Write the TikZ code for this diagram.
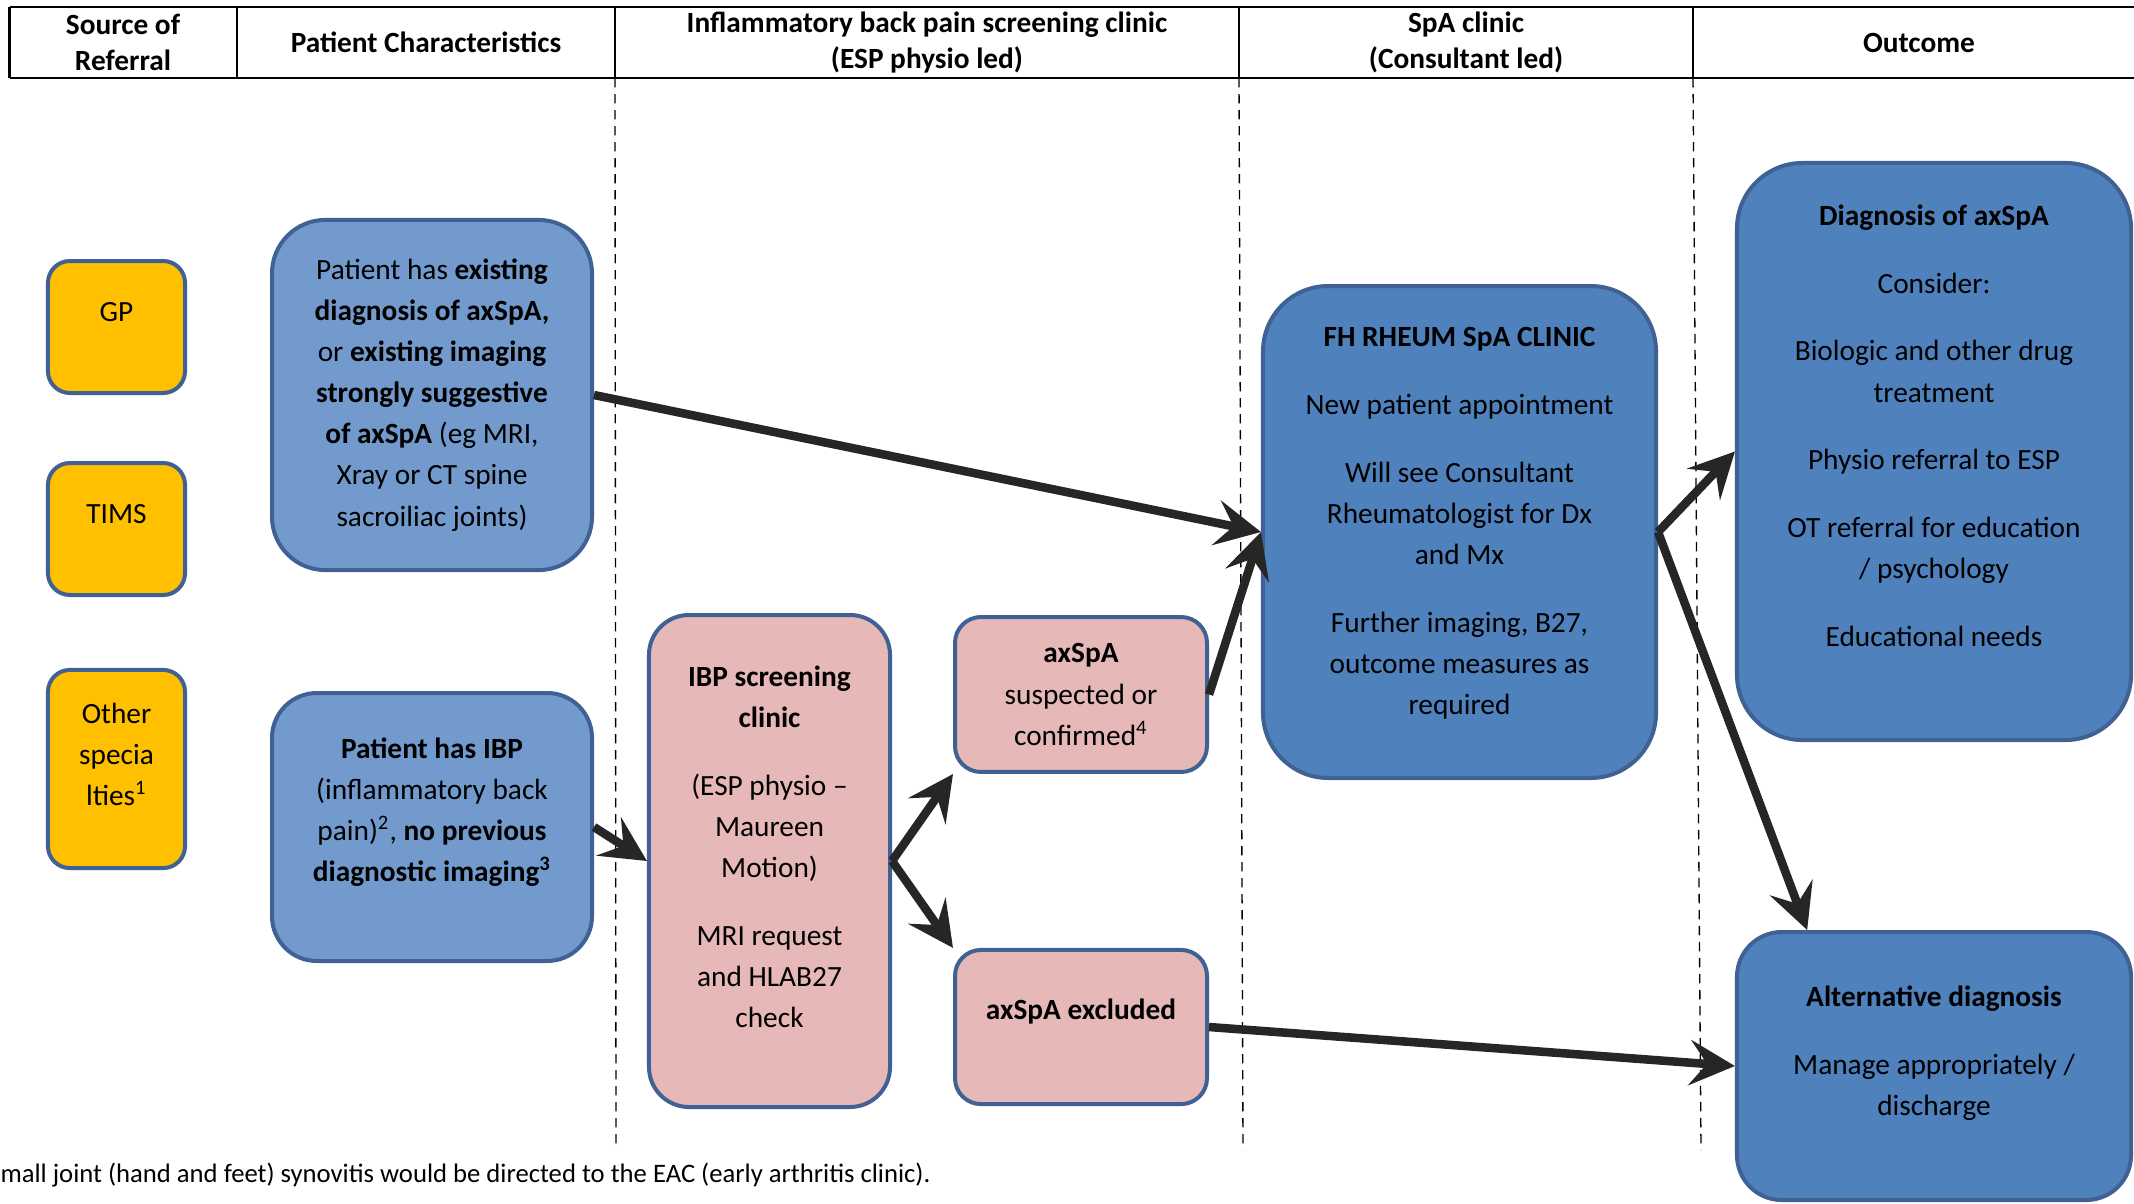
\documentclass[tikz,border=0pt]{standalone}
\usepackage{fontspec}
\setmainfont{Carlito}
\usetikzlibrary{arrows.meta}

\definecolor{srcfill}{HTML}{FFC000}
\definecolor{patfill}{HTML}{729ACD}
\definecolor{pinkfill}{HTML}{E6B9B8}
\definecolor{clinicfill}{HTML}{4F81BD}
\definecolor{boxline}{HTML}{3F6193}
\definecolor{arrowgray}{HTML}{262626}

% empty space under the last line, lifts the text in its box
\newcommand{\padbelow}[1]{\rule[-#1]{0pt}{0pt}}

\tikzset{
    basebox/.style={draw=boxline, line width=1.5pt, align=center, font={\fontsize{11}{15.4}\selectfont}},
    srcbox/.style={basebox, fill=srcfill, minimum width=51.4pt, rounded corners=8.2pt},
    patbox/.style={basebox, fill=patfill, minimum width=120pt},
    pinkbox/.style={basebox, fill=pinkfill},
    clinicbox/.style={basebox, fill=clinicfill},
    hdr/.style={align=center, font={\bfseries\fontsize{11}{13.4}\selectfont}},
    flowarrow/.style={line width=3.2pt, draw=arrowgray, -{Stealth[length=17pt,width=17pt,inset=6.5pt]}},
    lanesep/.style={line width=0.5pt, dash pattern=on 3.5pt off 2.5pt}
}

\begin{document}
\begin{tikzpicture}[x=0.375pt, y=-0.375pt]
    \useasboundingbox (0,0) rectangle (2134,1203);

    % Header row
    \draw[line width=1pt] (9.5,7) -- (2134,7);
    \draw[line width=1pt] (9.5,78) -- (2134,78);
    \foreach \xh in {9.5, 237, 615, 1239, 1693}
        \draw[line width=1pt] (\xh,7) -- (\xh,78);
    \node[hdr] (hsource) at (123, 42.5) {Source of\\Referral};
    \node[hdr] (hpatient) at (426, 42.5) {Patient Characteristics};
    \node[hdr] (hibp) at (927, 42.5) {Inflammatory back pain screening clinic\\(ESP physio led)};
    \node[hdr] (hspa) at (1466, 42.5) {SpA clinic\\(Consultant led)};
    \node[hdr] (houtcome) at (1919, 42.5) {Outcome};

    % Lane separators
    \draw[lanesep] (615,78) -- (616,1150);
    \draw[lanesep] (1239,78) -- (1243,1150);
    \draw[lanesep] (1693,78) -- (1701,1150);

    % Define the nodes
    \node[srcbox, minimum height=49.5pt] (gp) at (116.5, 327) {GP\padbelow{11pt}};
    \node[srcbox, minimum height=49.5pt] (tims) at (116.5, 529) {TIMS\padbelow{11pt}};
    \node[srcbox, minimum height=74.3pt] (other) at (116.5, 769) {Other\\specia\\lties\textsuperscript{1}\padbelow{11pt}};

    \node[patbox, minimum height=131.3pt, rounded corners=20pt] (exist) at (432, 395)
        {Patient has \textbf{existing}\\\textbf{diagnosis of axSpA,}\\or \textbf{existing imaging}\\\textbf{strongly suggestive}\\\textbf{of axSpA} (eg MRI,\\Xray or CT spine\\sacroiliac joints)};
    \node[patbox, minimum height=100.5pt, rounded corners=16.8pt] (ibp) at (432, 827)
        {\textbf{Patient has IBP}\\(inflammatory back\\pain)\textsuperscript{2}, \textbf{no previous}\\\textbf{diagnostic imaging\textsuperscript{3}}\padbelow{13pt}};

    \node[pinkbox, minimum width=90.4pt, minimum height=184.5pt, rounded corners=15pt] (screen) at (769.5, 861)
        {\textbf{IBP screening}\\\textbf{clinic}\\[10pt](ESP physio –\\Maureen\\Motion)\\[10pt]MRI request\\and HLAB27\\check\padbelow{10.6pt}};
    \node[pinkbox, minimum width=94.5pt, minimum height=58.1pt, rounded corners=9.7pt] (suspect) at (1081, 694.5)
        {\textbf{axSpA}\\suspected or\\confirmed\textsuperscript{4}};
    \node[pinkbox, minimum width=94.5pt, minimum height=57.8pt, rounded corners=9.7pt] (exclude) at (1081, 1027)
        {\textbf{axSpA excluded}\padbelow{13pt}};

    \node[clinicbox, minimum width=147.4pt, minimum height=184.5pt, rounded corners=24.5pt] (fh) at (1459.5, 532)
        {\textbf{FH RHEUM SpA CLINIC}\\[10pt]New patient appointment\\[10pt]Will see Consultant\\Rheumatologist for Dx\\and Mx\\[10pt]Further imaging, B27,\\outcome measures as\\required\padbelow{8.3pt}};

    \node[clinicbox, minimum width=147.8pt, minimum height=216.4pt, rounded corners=24.6pt] (diag) at (1934, 451.5)
        {\textbf{Diagnosis of axSpA}\\[10pt]Consider:\\[10pt]Biologic and other drug\\treatment\\[10pt]Physio referral to ESP\\[10pt]OT referral for education\\/ psychology\\[10pt]Educational needs\padbelow{19.4pt}};
    \node[clinicbox, minimum width=147.8pt, minimum height=100.5pt, rounded corners=16.8pt] (alt) at (1934, 1066)
        {\textbf{Alternative diagnosis}\\[10pt]Manage appropriately /\\discharge\padbelow{11.5pt}};

    \node[anchor=west, inner sep=0pt, font={\fontsize{10}{12}\selectfont}] (note) at (0, 1175)
        {mall joint (hand and feet) synovitis would be directed to the EAC (early arthritis clinic).};

    % Draw the edges
    \draw[flowarrow] (exist.east) -- (fh.west);
    \draw[flowarrow] (ibp.east) -- (screen.west);
    \draw[flowarrow] (screen.east) -- (suspect.south west);
    \draw[flowarrow] (screen.east) -- (exclude.north west);
    \draw[flowarrow] (suspect.east) -- (fh.west);
    \draw[flowarrow] (fh.east) -- (diag.west);
    \draw[flowarrow] (fh.east) -- (alt.133);
    \draw[flowarrow] (exclude.east) -- (alt.west);
\end{tikzpicture}
\end{document}
